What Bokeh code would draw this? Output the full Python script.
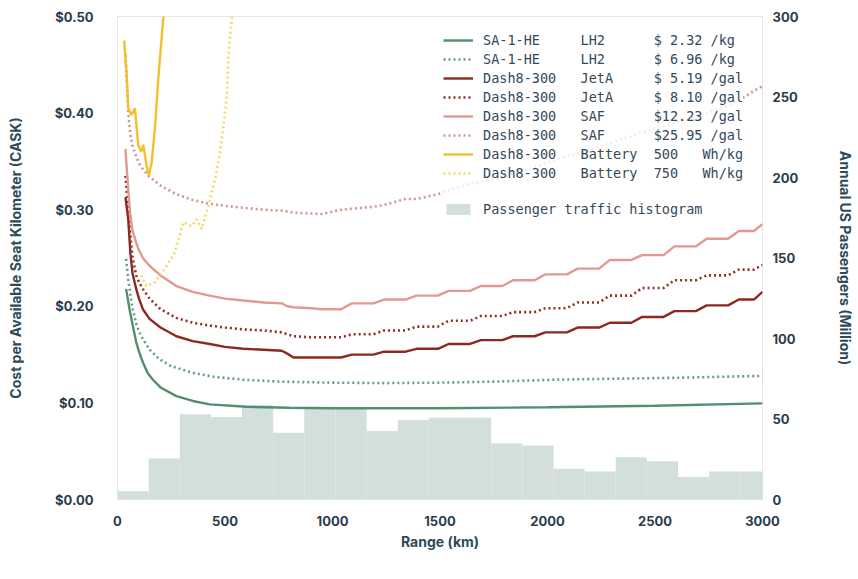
from bokeh.plotting import figure
from bokeh.models import Range1d, LinearAxis, Legend, LegendItem, NumeralTickFormatter, FixedTicker
from bokeh.embed import file_html
from bokeh.resources import INLINE

# ---------------- data ----------------
# passenger histogram (bins of ~90 miles)
hist_left = [0, 145, 290, 435, 579, 724, 869, 1014, 1159, 1304, 1448, 1593, 1738, 1883, 2028, 2173, 2317, 2462, 2607, 2752, 2897]
hist_right = [145, 290, 435, 579, 724, 869, 1014, 1159, 1304, 1448, 1593, 1738, 1883, 2028, 2173, 2317, 2462, 2607, 2752, 2897, 3042]
hist_pax = [5.2, 25.5, 52.9, 51.2, 58.5, 41.5, 57.5, 57.5, 42.5, 49.4, 50.8, 50.8, 34.8, 33.6, 19.1, 17.4, 26.3, 23.8, 13.9, 17.4, 17.4]

# SA-1-HE LH2 $2.32/kg
sa_low_x = [40, 50, 56, 71, 87, 100, 118, 140, 165, 200, 274, 350, 429, 600, 800, 1000, 1500, 2000, 2500, 3000]
sa_low_y = [0.218, 0.205, 0.197, 0.180, 0.163, 0.153, 0.142, 0.131, 0.124, 0.116, 0.107, 0.102, 0.0985, 0.096, 0.095, 0.0945, 0.0945, 0.0955, 0.097, 0.0995]
# SA-1-HE LH2 $6.96/kg
sa_high_x = [40, 50, 60, 71, 87, 100, 118, 150, 196, 250, 351, 450, 585, 750, 989, 1250, 1500, 1750, 2030, 2300, 2600, 2800, 3000]
sa_high_y = [0.249, 0.228, 0.212, 0.197, 0.182, 0.174, 0.166, 0.155, 0.145, 0.138, 0.131, 0.127, 0.124, 0.122, 0.121, 0.1205, 0.121, 0.122, 0.124, 0.125, 0.126, 0.127, 0.128]

# Dash8-300 common range samples
d8_x = [37, 50, 60, 70, 87, 100, 118, 149, 200, 274, 350, 429, 500, 585, 680, 764, 790, 818, 900,
        950, 1040, 1090, 1190, 1240, 1340, 1390, 1490, 1540, 1640, 1690, 1790, 1840, 1940, 1990, 2090,
        2140, 2240, 2290, 2390, 2440, 2540, 2590, 2690, 2740, 2840, 2890, 2960, 3000]
jeta_low_y = [0.313, 0.290, 0.255, 0.234, 0.218, 0.208, 0.197, 0.187, 0.178, 0.169, 0.164, 0.161, 0.158, 0.156, 0.155, 0.154, 0.151, 0.147, 0.147,
              0.147, 0.147, 0.150, 0.150, 0.153, 0.153, 0.156, 0.156, 0.161, 0.161, 0.165, 0.165, 0.169, 0.169, 0.173, 0.173,
              0.178, 0.178, 0.183, 0.183, 0.189, 0.189, 0.195, 0.195, 0.201, 0.201, 0.207, 0.207, 0.215]
jeta_high_y = [0.335, 0.300, 0.272, 0.251, 0.232, 0.225, 0.218, 0.208, 0.197, 0.188, 0.183, 0.180, 0.178, 0.176, 0.175, 0.173, 0.171, 0.169, 0.168,
               0.168, 0.168, 0.171, 0.171, 0.175, 0.175, 0.179, 0.179, 0.185, 0.185, 0.190, 0.190, 0.194, 0.194, 0.198, 0.198,
               0.204, 0.204, 0.211, 0.211, 0.219, 0.219, 0.227, 0.227, 0.232, 0.232, 0.238, 0.238, 0.243]
saf_low_y = [0.363, 0.320, 0.294, 0.278, 0.266, 0.258, 0.250, 0.242, 0.232, 0.221, 0.215, 0.211, 0.208, 0.206, 0.204, 0.203, 0.200, 0.199, 0.198,
             0.197, 0.197, 0.203, 0.203, 0.207, 0.207, 0.211, 0.211, 0.216, 0.216, 0.221, 0.221, 0.227, 0.227, 0.233, 0.233,
             0.239, 0.239, 0.248, 0.248, 0.253, 0.253, 0.262, 0.262, 0.270, 0.270, 0.278, 0.278, 0.285]
saf_high_y = [0.460, 0.400, 0.378, 0.366, 0.355, 0.348, 0.342, 0.334, 0.325, 0.316, 0.310, 0.306, 0.304, 0.302, 0.300, 0.299, 0.298, 0.297, 0.296,
              0.2955, 0.300, 0.301, 0.303, 0.305, 0.311, 0.311, 0.316, 0.320, 0.327, 0.329, 0.333, 0.338, 0.344, 0.348, 0.355,
              0.358, 0.365, 0.369, 0.376, 0.380, 0.386, 0.390, 0.396, 0.400, 0.408, 0.413, 0.423, 0.428]

# Dash8-300 Battery 500 Wh/kg
bat_low_x = [31, 42, 50, 65, 81, 96, 110, 120, 135, 146, 159, 174, 190, 205, 213, 222]
bat_low_y = [0.475, 0.443, 0.405, 0.398, 0.405, 0.367, 0.360, 0.367, 0.346, 0.335, 0.349, 0.384, 0.436, 0.477, 0.498, 0.520]
# Dash8-300 Battery 750 Wh/kg
bat_high_x = [110, 134, 174, 220, 267, 306, 345, 369, 392, 423, 454, 477, 493, 509, 517, 532, 540]
bat_high_y = [0.232, 0.221, 0.225, 0.239, 0.256, 0.287, 0.283, 0.290, 0.280, 0.304, 0.332, 0.360, 0.387, 0.418, 0.463, 0.498, 0.520]

labels = [
    "SA-1-HE     LH2      $ 2.32 /kg",
    "SA-1-HE     LH2      $ 6.96 /kg",
    "Dash8-300   JetA     $ 5.19 /gal",
    "Dash8-300   JetA     $ 8.10 /gal",
    "Dash8-300   SAF      $12.23 /gal",
    "Dash8-300   SAF      $25.95 /gal",
    "Dash8-300   Battery  500   Wh/kg",
    "Dash8-300   Battery  750   Wh/kg",
]
hist_label = "Passenger traffic histogram"

y_ticks = [0, 0.1, 0.2, 0.3, 0.4, 0.5]
y2_ticks = [0, 50, 100, 150, 200, 250, 300]
x_ticks = [0, 500, 1000, 1500, 2000, 2500, 3000]

# ---------------- figure ----------------
TXT = "#2a3c4c"
p = figure(frame_width=645, frame_height=483, x_range=Range1d(0, 3000), y_range=Range1d(0, 0.5),
           output_backend="svg", toolbar_location=None,
           min_border_left=117, min_border_right=88, min_border_top=16, min_border_bottom=58)
p.extra_y_ranges = {"pax": Range1d(0, 300)}
p.xgrid.visible = False
p.ygrid.visible = False
p.outline_line_color = "#e2e6e6"
p.background_fill_color = "white"
p.border_fill_color = "white"

hist = p.quad(left=hist_left, right=hist_right, bottom=0, top=hist_pax, y_range_name="pax",
              fill_color="#d3dfdc", line_color=None)

solid_w = 2.4
dot_w = 2.6
dot = "2 3"
r1 = p.line(sa_low_x, sa_low_y, line_color="#52906d", line_width=solid_w)
r2 = p.line(sa_high_x, sa_high_y, line_color="#6a9a82", line_width=dot_w, line_dash=dot)
r3 = p.line(d8_x, jeta_low_y, line_color="#8a2a20", line_width=solid_w)
r4 = p.line(d8_x, jeta_high_y, line_color="#922f25", line_width=dot_w, line_dash=dot)
r5 = p.line(d8_x, saf_low_y, line_color="#e29990", line_width=solid_w)
r6 = p.line(d8_x, saf_high_y, line_color="#d2968e", line_width=dot_w, line_dash=dot)
r7 = p.line(bat_low_x, bat_low_y, line_color="#f3bf2c", line_width=solid_w)
r8 = p.line(bat_high_x, bat_high_y, line_color="#f6d86a", line_width=dot_w, line_dash=dot)
blank = p.line([], [], line_alpha=0)

# axes
p.xaxis.ticker = FixedTicker(ticks=x_ticks)
p.yaxis.ticker = FixedTicker(ticks=y_ticks)
p.yaxis.formatter = NumeralTickFormatter(format="$0.00")
p.xaxis.axis_label = "Range (km)"
p.yaxis.axis_label = "Cost per Available Seat Kilometer (CASK)"

ax2 = LinearAxis(y_range_name="pax", ticker=FixedTicker(ticks=y2_ticks),
                 axis_label="Annual US Passengers (Million)")
p.add_layout(ax2, "right")

for ax in [p.xaxis[0], p.yaxis[0], ax2]:
    ax.axis_line_color = None
    ax.major_tick_line_color = None
    ax.minor_tick_line_color = None
    ax.major_tick_out = 0
    ax.major_tick_in = 0
    ax.minor_tick_out = 0
    ax.minor_tick_in = 0
    ax.major_label_text_font = "Inter"
    ax.major_label_text_font_style = "bold"
    ax.major_label_text_font_size = "13px"
    ax.major_label_text_color = TXT
    ax.axis_label_text_font = "Inter"
    ax.axis_label_text_font_style = "bold"
    ax.axis_label_text_font_size = "14px"
    ax.axis_label_text_color = "#2d4a5a"

p.xaxis.major_label_standoff = 16
p.xaxis.axis_label_standoff = 4
p.yaxis.major_label_standoff = 24
p.yaxis.axis_label_standoff = 28
ax2.major_label_standoff = 10
ax2.axis_label_standoff = 36

items = [LegendItem(label=l, renderers=[r]) for l, r in zip(labels, [r1, r2, r3, r4, r5, r6, r7, r8])]
items.append(LegendItem(label=" ", renderers=[blank]))
items.append(LegendItem(label=hist_label, renderers=[hist]))
leg = Legend(items=items, location=(326, 282))
leg.label_text_font = "DejaVu Sans Mono"
leg.label_text_font_size = "13.5px"
leg.label_text_color = "#34495a"
leg.glyph_width = 30
leg.glyph_height = 14
leg.label_height = 14
leg.label_standoff = 10
leg.spacing = 3
leg.padding = 6
leg.border_line_color = None
leg.background_fill_color = "white"
leg.background_fill_alpha = 0.8
p.add_layout(leg, "center")

open("out.html", "w").write(file_html(p, INLINE))
